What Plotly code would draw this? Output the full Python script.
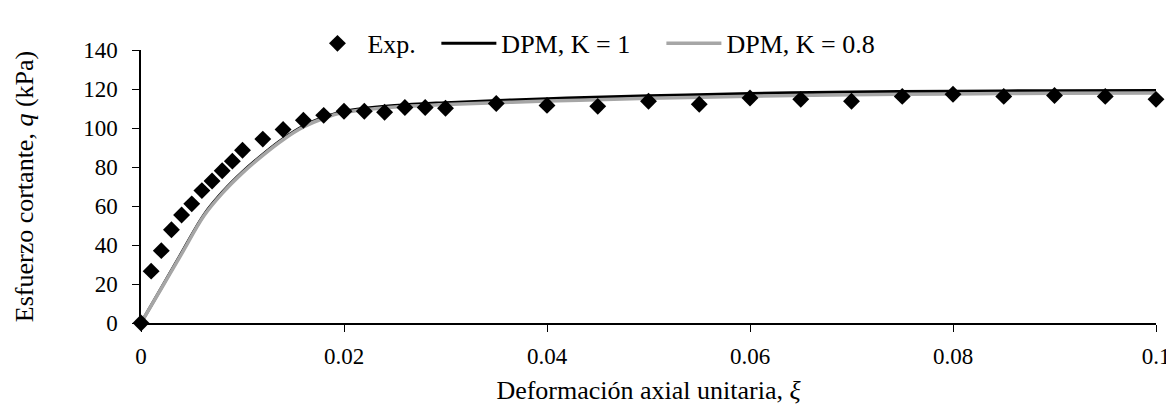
import plotly.graph_objects as go

# Experimental data
exp_x = [0, 0.001, 0.002, 0.003, 0.004, 0.005, 0.006, 0.007, 0.008, 0.009, 0.010,
         0.012, 0.014, 0.016, 0.018, 0.020, 0.022, 0.024, 0.026, 0.028, 0.030,
         0.035, 0.040, 0.045, 0.050, 0.055, 0.060, 0.065, 0.070, 0.075, 0.080,
         0.085, 0.090, 0.095, 0.100]
exp_y = [0, 26.6, 37.1, 47.8, 55.4, 61.1, 67.9, 72.8, 78.1, 83.0, 88.6,
         94.3, 99.2, 104.0, 106.5, 108.6, 108.6, 108.1, 110.5, 110.5, 110.1,
         112.6, 111.6, 111.1, 113.7, 112.2, 115.4, 114.7, 113.7, 116.2, 117.3,
         116.2, 116.7, 116.2, 114.7]

# DPM model curves
dpm_x = [0, 0.002, 0.004, 0.0062, 0.008, 0.010, 0.012, 0.014, 0.016, 0.018, 0.020,
         0.025, 0.030, 0.040, 0.050, 0.060, 0.070, 0.080, 0.090, 0.100]
dpm_k1 = [0, 18, 36, 55.5, 67, 77.5, 86.5, 94.5, 101, 105.5, 108.5,
          111.5, 113, 115, 116.5, 117.7, 118.4, 118.9, 119.1, 119.2]
dpm_k08 = [0, 17.7, 35.5, 55, 66.5, 77, 86, 94, 100.5, 105, 108,
           110.8, 112, 113.8, 115.2, 116.3, 117, 117.5, 117.8, 118]

x_ticks = [0, 0.02, 0.04, 0.06, 0.08, 0.1]
x_ticklabels = ["0", "0.02", "0.04", "0.06", "0.08", "0.1"]
y_ticks = [0, 20, 40, 60, 80, 100, 120, 140]

FONT = "Liberation Serif, Times New Roman, serif"
LEG_FONT = dict(family=FONT, size=26, color="black")

fig = go.Figure()
fig.add_trace(go.Scatter(x=dpm_x, y=dpm_k1, mode="lines", name="DPM, K = 1",
                         line=dict(color="black", width=3), line_shape="spline",
                         legend="legend2"))
fig.add_trace(go.Scatter(x=dpm_x, y=dpm_k08, mode="lines", name="DPM, K = 0.8",
                         line=dict(color="#a6a6a6", width=3.5), line_shape="spline",
                         legend="legend3"))
fig.add_trace(go.Scatter(x=exp_x, y=exp_y, mode="markers", name="Exp.",
                         marker=dict(symbol="diamond", size=13, color="black"),
                         cliponaxis=False, legend="legend"))

def leg(x, iw=30):
    return dict(x=x, xanchor="left", y=1.024, yanchor="middle", orientation="h",
                font=LEG_FONT, bgcolor="rgba(0,0,0,0)", borderwidth=0,
                itemwidth=iw)

fig.update_layout(
    width=1174, height=404,
    margin=dict(l=133, r=17, t=31, b=86),
    paper_bgcolor="white", plot_bgcolor="white",
    font=dict(family=FONT, size=23, color="black"),
    showlegend=True,
    legend=leg(0.164, 50),
    legend2=leg(0.291, 55),
    legend3=leg(0.5127, 55),
)
fig.update_xaxes(range=[0, 0.1], tickvals=x_ticks, ticktext=x_ticklabels,
                 showgrid=False, zeroline=False, showline=True, linecolor="black",
                 linewidth=1.5, ticks="outside", ticklen=7, tickcolor="black",
                 ticklabelstandoff=5,
                 tickfont=dict(family=FONT, size=23, color="black"),
                 title=dict(text="Deformación axial unitaria, <i>ξ</i>",
                            font=dict(family=FONT, size=26, color="black"), standoff=12))
fig.update_yaxes(range=[0, 140], tickvals=y_ticks,
                 showgrid=False, zeroline=False, showline=True, linecolor="black",
                 linewidth=1.5, ticks="outside", ticklen=7, tickcolor="black",
                 ticklabelstandoff=10,
                 tickfont=dict(family=FONT, size=23, color="black"),
                 title=dict(text="Esfuerzo cortante, <i>q</i> (kPa)",
                            font=dict(family=FONT, size=26, color="black"), standoff=42))

fig.write_html("out.html")
